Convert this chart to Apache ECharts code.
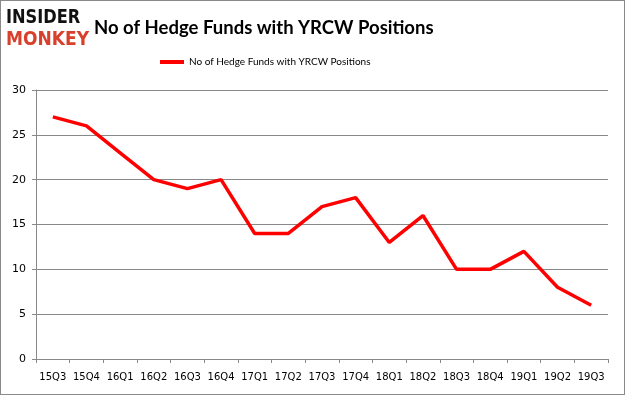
<!DOCTYPE html>
<html><head><meta charset="utf-8">
<script src="https://cdn.jsdelivr.net/npm/echarts@6/dist/echarts.min.js"></script>
<style>html,body{margin:0;padding:0;background:#fff}#c{width:625px;height:395px;box-sizing:border-box;border:1px solid #8a8a8a}</style>
</head><body><div id="c"></div>
<script>
const categories = ['15Q3','15Q4','16Q1','16Q2','16Q3','16Q4','17Q1','17Q2','17Q3','17Q4','18Q1','18Q2','18Q3','18Q4','19Q1','19Q2','19Q3'];
const values = [27,26,23,20,19,20,14,14,17,18,13,16,10,10,12,8,6];
const seriesName = 'No of Hedge Funds with YRCW Positions';
const chart = echarts.init(document.getElementById('c'));
chart.setOption({
  animation:false,
  title:{text:'No of Hedge Funds with YRCW Positions',left:88,top:13,textStyle:{fontFamily:'Lato',fontSize:18.5,fontWeight:'bold',color:'#000'}},
  graphic:[
    {type:'text',left:5,top:7,scaleX:0.9,scaleY:1.1,style:{text:'INSIDER',font:'900 18px "DejaVu Sans"',fill:'#111'}},
    {type:'text',left:5,top:29,scaleX:0.95,scaleY:1.1,style:{text:'MONKEY',font:'900 18px "DejaVu Sans"',fill:'#d9402b'}}
  ],
  legend:{top:51,left:154,data:[seriesName],itemWidth:24,itemHeight:4,itemGap:1,icon:'rect',textStyle:{fontFamily:'Lato',fontSize:10,color:'#000'}},
  grid:{left:35,right:16,top:89,bottom:35},
  xAxis:{type:'category',data:categories,boundaryGap:true,
    axisLine:{lineStyle:{color:'#888'}},axisTick:{show:true,alignWithLabel:false,length:4,lineStyle:{color:'#888'}},
    axisLabel:{color:'#000',fontFamily:'DejaVu Sans',fontSize:10,margin:13,interval:0}},
  yAxis:{type:'value',min:0,max:30,interval:5,
    axisLine:{show:true,lineStyle:{color:'#888'}},axisTick:{show:true,length:4,lineStyle:{color:'#888'}},
    splitLine:{lineStyle:{color:'#888'}},
    axisLabel:{color:'#000',fontFamily:'DejaVu Sans',fontSize:11,margin:10}},
  series:[{name:seriesName,type:'line',data:values,symbol:'none',lineStyle:{color:'#ff0000',width:3.5},itemStyle:{color:'#ff0000'}}]
});
</script></body></html>
